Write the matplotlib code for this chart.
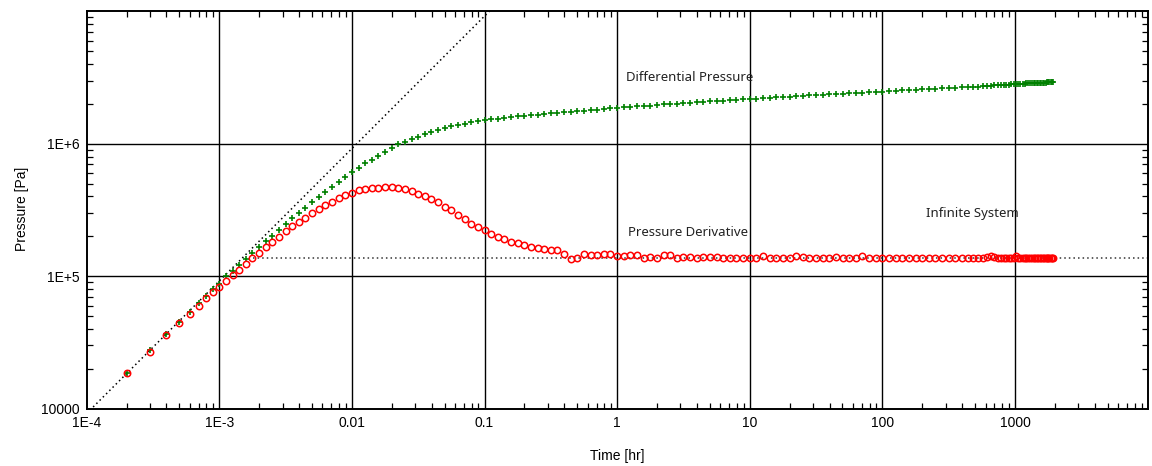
import matplotlib
matplotlib.use("Agg")
import matplotlib.pyplot as plt
from matplotlib.ticker import FixedLocator, NullFormatter, LogLocator

# elapsed time [hr]
time_hr = [
    0.0002, 0.0003, 0.0004, 0.0005, 0.0006, 0.0007, 0.0008, 0.0009,
    0.001, 0.001122, 0.001259, 0.001413, 0.001585, 0.001778, 0.001995, 0.002239, 0.002512, 0.002818,
    0.003162, 0.003548, 0.003981, 0.004467, 0.005012, 0.005623, 0.00631, 0.007079, 0.007943, 0.008913,
    0.01, 0.01122, 0.01259, 0.01413, 0.01585, 0.01778, 0.01995, 0.02239, 0.02512, 0.02818,
    0.03162, 0.03548, 0.03981, 0.04467, 0.05012, 0.05623, 0.0631, 0.07079, 0.07943, 0.08913,
    0.1, 0.1122, 0.1259, 0.1413, 0.1585, 0.1778, 0.1995, 0.2239, 0.2512, 0.2818,
    0.3162, 0.3548, 0.3981, 0.4467, 0.5012, 0.5623, 0.631, 0.7079, 0.7943, 0.8913,
    1.0, 1.122, 1.259, 1.413, 1.585, 1.778, 1.995, 2.239, 2.512, 2.818,
    3.162, 3.548, 3.981, 4.467, 5.012, 5.623, 6.31, 7.079, 7.943, 8.913,
    10.0, 11.22, 12.59, 14.13, 15.85, 17.78, 19.95, 22.39, 25.12, 28.18,
    31.62, 35.48, 39.81, 44.67, 50.12, 56.23, 63.1, 70.79, 79.43, 89.13,
    100.0, 112.2, 125.9, 141.3, 158.5, 177.8, 199.5, 223.9, 251.2, 281.8,
    316.2, 354.8, 398.1, 440, 480, 525, 570, 615, 660,
    700, 740, 780, 820, 860, 900, 940, 980, 1020, 1060, 1100, 1140, 1180, 1220, 1260, 1300,
    1340, 1380, 1420, 1460, 1500, 1540, 1580, 1620, 1660, 1700, 1740, 1780, 1820, 1860, 1900, 1940,
]

# differential pressure [Pa]
dp_pa = [
    1.86e4, 2.75e4, 3.65e4, 4.5e4, 5.4e4, 6.3e4, 7.1e4, 8.0e4,
    8.8e4, 1.0e5, 1.1e5, 1.22e5, 1.35e5, 1.5e5, 1.67e5, 1.83e5, 2.02e5, 2.23e5,
    2.47e5, 2.73e5, 2.98e5, 3.3e5, 3.62e5, 3.95e5, 4.36e5, 4.72e5, 5.15e5, 5.62e5,
    6.12e5, 6.6e5, 7.1e5, 7.6e5, 8.1e5, 8.7e5, 9.25e5, 9.9e5, 1.03e6, 1.08e6,
    1.13e6, 1.18e6, 1.22e6, 1.27e6, 1.32e6, 1.36e6, 1.39e6, 1.41e6, 1.45e6, 1.48e6,
    1.51e6, 1.53e6, 1.55e6, 1.57e6, 1.59e6, 1.61e6, 1.63e6, 1.645e6, 1.66e6, 1.68e6,
    1.695e6, 1.71e6, 1.725e6, 1.74e6, 1.755e6, 1.775e6, 1.79e6, 1.81e6, 1.83e6, 1.85e6,
    1.87e6, 1.885e6, 1.9e6, 1.915e6, 1.93e6, 1.945e6, 1.965e6, 1.98e6, 1.995e6, 2.01e6,
    2.025e6, 2.04e6, 2.055e6, 2.07e6, 2.09e6, 2.1e6, 2.12e6, 2.135e6, 2.15e6, 2.165e6,
    2.18e6, 2.195e6, 2.21e6, 2.225e6, 2.24e6, 2.255e6, 2.27e6, 2.285e6, 2.3e6, 2.315e6,
    2.33e6, 2.345e6, 2.36e6, 2.375e6, 2.39e6, 2.405e6, 2.42e6, 2.435e6, 2.45e6, 2.465e6,
    2.48e6, 2.495e6, 2.51e6, 2.525e6, 2.54e6, 2.56e6, 2.575e6, 2.59e6, 2.605e6, 2.62e6,
    2.635e6, 2.65e6, 2.665e6, 2.68e6, 2.69e6, 2.705e6, 2.715e6, 2.73e6, 2.745e6,
    2.77e6, 2.775e6, 2.78e6, 2.79e6, 2.795e6, 2.8e6, 2.81e6, 2.82e6, 2.83e6, 2.835e6,
    2.84e6, 2.845e6, 2.85e6, 2.855e6, 2.86e6, 2.865e6,
    2.87e6, 2.87e6, 2.875e6, 2.88e6, 2.885e6, 2.89e6, 2.89e6, 2.895e6, 2.9e6, 2.9e6,
    2.905e6, 2.91e6, 2.91e6, 2.915e6, 2.92e6, 2.92e6,
]

# pressure derivative [Pa]
deriv_pa = [
    1.86e4, 2.7e4, 3.6e4, 4.4e4, 5.2e4, 6.0e4, 6.8e4, 7.6e4,
    8.3e4, 9.2e4, 1.02e5, 1.11e5, 1.24e5, 1.37e5, 1.5e5, 1.66e5, 1.81e5, 1.97e5,
    2.2e5, 2.38e5, 2.57e5, 2.77e5, 3.0e5, 3.2e5, 3.45e5, 3.65e5, 3.87e5, 4.07e5,
    4.26e5, 4.46e5, 4.52e5, 4.6e5, 4.67e5, 4.7e5, 4.7e5, 4.67e5, 4.57e5, 4.38e5,
    4.2e5, 4.0e5, 3.8e5, 3.65e5, 3.36e5, 3.15e5, 2.92e5, 2.72e5, 2.5e5, 2.36e5,
    2.22e5, 2.07e5, 1.99e5, 1.9e5, 1.82e5, 1.77e5, 1.71e5, 1.67e5, 1.64e5, 1.6e5,
    1.58e5, 1.58e5, 1.47e5, 1.34e5, 1.38e5, 1.46e5, 1.44e5, 1.44e5, 1.47e5, 1.47e5,
    1.41e5, 1.42e5, 1.44e5, 1.44e5, 1.37e5, 1.4e5, 1.37e5, 1.45e5, 1.44e5, 1.37e5,
    1.4e5, 1.4e5, 1.37e5, 1.4e5, 1.4e5, 1.4e5, 1.37e5, 1.37e5, 1.37e5, 1.37e5,
    1.37e5, 1.37e5, 1.42e5, 1.37e5, 1.37e5, 1.37e5, 1.38e5, 1.42e5, 1.4e5, 1.37e5,
    1.38e5, 1.37e5, 1.37e5, 1.4e5, 1.37e5, 1.37e5, 1.38e5, 1.42e5, 1.37e5, 1.38e5,
    1.37e5, 1.38e5, 1.37e5, 1.37e5, 1.38e5, 1.37e5, 1.37e5, 1.37e5, 1.38e5, 1.37e5,
    1.38e5, 1.37e5, 1.37e5, 1.38e5, 1.37e5, 1.37e5, 1.38e5, 1.4e5, 1.43e5,
    1.39e5, 1.38e5, 1.37e5, 1.37e5, 1.38e5, 1.37e5, 1.38e5, 1.37e5, 1.42e5, 1.38e5,
    1.37e5, 1.37e5, 1.37e5, 1.38e5, 1.37e5, 1.37e5,
    1.37e5, 1.38e5, 1.37e5, 1.37e5, 1.37e5, 1.38e5, 1.37e5, 1.37e5, 1.37e5, 1.37e5,
    1.38e5, 1.37e5, 1.37e5, 1.37e5, 1.37e5, 1.37e5,
]

# model lines: wellbore storage (unit slope) and infinite-acting radial flow
storage_coef = 9.2e7        # Pa/hr
storage_t = [1e-4, 0.2]
radial_p = 1.37e5           # Pa
radial_t = [1.8e-3, 1e4]

xticks = [1e-4, 1e-3, 1e-2, 1e-1, 1, 10, 100, 1000]
xticklabels = ["1E-4", "1E-3", "0.01", "0.1", "1", "10", "100", "1000"]
yticks = [1e4, 1e5, 1e6]
yticklabels = ["10000", "1E+5", "1E+6"]

tickfont = "Liberation Sans"
notefont = "Noto Sans"

fig = plt.figure(figsize=(11.52, 4.66), dpi=100)
ax = fig.add_axes([0.0752, 0.1230, 0.9210, 0.8527])

ax.set_xscale("log")
ax.set_yscale("log")
ax.set_xlim(1e-4, 1e4)
ax.set_ylim(1e4, 1e7)

# grid: black solid lines at the decades
for x in [1e-3, 1e-2, 1e-1, 1, 10, 100, 1000]:
    ax.axvline(x, color="black", lw=1.0, zorder=1)
for y in [1e5, 1e6]:
    ax.axhline(y, color="black", lw=1.0, zorder=1)

ax.plot(storage_t, [storage_coef * t for t in storage_t], color="black",
        lw=1.1, ls=(0, (1, 2)), zorder=2)
ax.plot(radial_t, [radial_p, radial_p], color="#333333",
        lw=1.1, ls=(0, (1, 2)), zorder=2)

ax.plot(time_hr, dp_pa, ls="none", marker="+", color="#008000",
        ms=5, mew=1.2, zorder=3)
ax.plot(time_hr, deriv_pa, ls="none", marker="o", mfc="none", mec="red",
        ms=4.6, mew=1.1, zorder=4)

ax.text(1.16, 3.14e6, "Differential Pressure", family=notefont, fontsize=9.5,
        ha="left", va="center", color="#222222")
ax.text(1.2, 2.13e5, "Pressure Derivative", family=notefont, fontsize=9.5,
        ha="left", va="center", color="#222222")
ax.text(215, 2.97e5, "Infinite System", family=notefont, fontsize=9.5,
        ha="left", va="center", color="#222222")

ax.xaxis.set_major_locator(FixedLocator(xticks))
ax.set_xticklabels(xticklabels, family=tickfont, fontsize=10)
ax.yaxis.set_major_locator(FixedLocator(yticks))
ax.set_yticklabels(yticklabels, family=tickfont, fontsize=10)
ax.xaxis.set_minor_locator(LogLocator(base=10, subs=range(2, 10), numticks=20))
ax.yaxis.set_minor_locator(LogLocator(base=10, subs=range(2, 10), numticks=20))
ax.xaxis.set_minor_formatter(NullFormatter())
ax.yaxis.set_minor_formatter(NullFormatter())

ax.tick_params(which="major", length=0, pad=5)
ax.tick_params(which="minor", direction="in", length=4, width=0.9,
               top=True, right=True, color="black")

for sp in ax.spines.values():
    sp.set_linewidth(1.4)
    sp.set_zorder(5)

fig.text(22 / 1152, 1 - 209 / 466, "Pressure [Pa]", rotation=90,
         ha="center", va="center", family=tickfont, fontsize=10)
fig.text(617 / 1152, 1 - 456 / 466, "Time [hr]",
         ha="center", va="center", family=tickfont, fontsize=10)

fig.savefig("out.png", dpi=100)
